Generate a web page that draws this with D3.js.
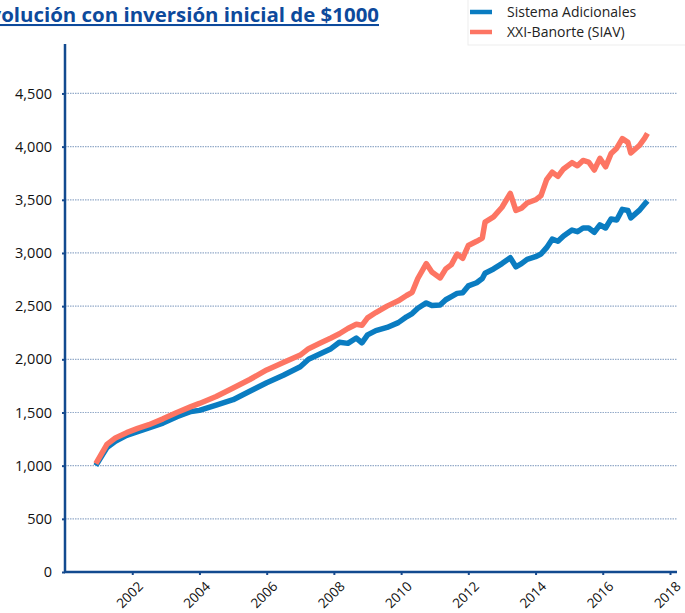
<!DOCTYPE html>
<html>
<head>
<meta charset="utf-8">
<script src="https://cdn.jsdelivr.net/npm/d3@7"></script>
<style>
  body { margin: 0; background: #fff; }
  text { font-family: "Open Sans", "Noto Sans", sans-serif; }
</style>
</head>
<body>
<div id="chart"></div>
<script>
// fechas (mes) y valores de cada serie
const fechas = ["2000-12","2001-04","2001-07","2001-11","2002-03","2002-07","2002-12","2003-05","2003-10",
  "2004-01","2004-07","2005-01","2005-07","2006-01","2006-07","2007-01","2007-04","2007-08","2007-12",
  "2008-03","2008-06","2008-09","2008-11","2009-01","2009-04","2009-08","2009-12","2010-03","2010-05",
  "2010-07","2010-10","2010-12","2011-03","2011-05","2011-07","2011-09","2011-11","2012-01","2012-04",
  "2012-06","2012-07","2012-10","2013-01","2013-04","2013-06","2013-08","2013-10","2014-01","2014-03",
  "2014-05","2014-07","2014-09","2014-11","2015-02","2015-04","2015-06","2015-08","2015-10","2015-12",
  "2016-02","2016-04","2016-06","2016-08","2016-10","2016-11","2017-02","2017-04","2017-05"];

const sistema = [1000,1170,1230,1285,1320,1355,1400,1460,1510,
  1520,1570,1620,1700,1780,1850,1930,2000,2050,2100,
  2160,2150,2200,2155,2230,2270,2300,2345,2400,2430,
  2480,2530,2505,2510,2560,2590,2620,2625,2690,2720,
  2760,2810,2850,2900,2955,2870,2900,2940,2965,2990,
  3050,3130,3110,3160,3215,3200,3235,3235,3195,3265,
  3235,3320,3310,3410,3400,3330,3400,3460,3490];

const banorte = [1020,1200,1260,1310,1350,1385,1440,1500,1555,
  1585,1650,1730,1810,1900,1970,2040,2100,2150,2200,
  2240,2290,2330,2320,2390,2440,2500,2550,2600,2630,
  2760,2900,2820,2765,2850,2890,2990,2950,3070,3110,
  3140,3290,3340,3430,3560,3400,3420,3470,3500,3540,
  3690,3760,3720,3790,3850,3820,3870,3855,3780,3890,
  3810,3935,3985,4075,4040,3940,4010,4080,4125];

const yTicks = [0,500,1000,1500,2000,2500,3000,3500,4000,4500];
const xTickYears = [2002,2004,2006,2008,2010,2012,2014,2016,2018];

const series = [
  {name: "Sistema Adicionales", values: sistema, color: "#0a7cc1"},
  {name: "XXI-Banorte (SIAV)", values: banorte, color: "#fd7563"}
];

const width = 685, height = 613;
const svg = d3.select("#chart").append("svg")
  .attr("width", width)
  .attr("height", height);

const parse = d3.timeParse("%Y-%m");
const dates = fechas.map(parse);

const x = d3.scaleTime()
  .domain([new Date(2000, 0, 1), new Date(2018, 0, 1)])
  .range([65, 670]);

const y = d3.scaleLinear()
  .domain([0, 4965])
  .range([572, 44]);

// gridlines
svg.append("g")
  .selectAll("line")
  .data(yTicks.filter(d => d > 0))
  .join("line")
  .attr("x1", 65).attr("x2", 677)
  .attr("y1", d => y(d)).attr("y2", d => y(d))
  .attr("stroke", "#94abc9")
  .attr("stroke-width", 1.2)
  .attr("stroke-dasharray", "1.5,1");

// y axis
const yAxis = svg.append("g")
  .attr("transform", "translate(65,0)")
  .call(d3.axisLeft(y).tickValues(yTicks).tickSize(3).tickPadding(10).tickFormat(d3.format(",")));
yAxis.select(".domain").remove();
yAxis.selectAll(".tick line").attr("stroke", "#1a4a8c").attr("stroke-width", 2);
yAxis.selectAll(".tick text").attr("font-size", 14.5).attr("fill", "#111");

svg.append("line")
  .attr("x1", 65).attr("x2", 65)
  .attr("y1", 44).attr("y2", 573)
  .attr("stroke", "#124a8f").attr("stroke-width", 2.5);

// x axis
const xAxis = svg.append("g")
  .attr("transform", "translate(0,572)")
  .call(d3.axisBottom(x)
    .tickValues(xTickYears.map(yr => new Date(yr, 0, 1)))
    .tickSize(3)
    .tickFormat(d3.timeFormat("%Y")));
xAxis.select(".domain").remove();
xAxis.selectAll(".tick line").attr("stroke", "#1a4a8c").attr("stroke-width", 2);
xAxis.selectAll(".tick text")
  .attr("font-size", 13.5).attr("fill", "#111")
  .attr("text-anchor", "end")
  .attr("dy", null)
  .attr("transform", "translate(7,11) rotate(-45)")
  .attr("x", 0).attr("y", 6);

svg.append("line")
  .attr("x1", 64).attr("x2", 677)
  .attr("y1", 572).attr("y2", 572)
  .attr("stroke", "#124a8f").attr("stroke-width", 2.5);

// lines
const line = d3.line()
  .x((d, i) => x(dates[i]))
  .y(d => y(d))
  .curve(d3.curveLinear);

svg.append("g")
  .selectAll("path")
  .data(series)
  .join("path")
  .attr("d", d => line(d.values))
  .attr("fill", "none")
  .attr("stroke", d => d.color)
  .attr("stroke-width", 5.5)
  .attr("stroke-linejoin", "round");

// title (the slide crops its first letters at the left edge)
const title = svg.append("text")
  .attr("x", 379).attr("y", 22)
  .attr("text-anchor", "end")
  .attr("font-size", 18)
  .attr("font-weight", "bold")
  .attr("fill", "#0d4a9c")
  .style("text-decoration", "underline")
  .text("Evolución con inversión inicial de $1000");
const tn = title.node();
const visible = tn.getComputedTextLength() - tn.getSubStringLength(0, 2);
title.attr("font-size", 18 * 378 / visible);

// legend
svg.append("rect")
  .attr("x", 468).attr("y", -2).attr("width", 230).attr("height", 47)
  .attr("fill", "none").attr("stroke", "#ededed");

const legend = svg.append("g")
  .selectAll("g")
  .data(series)
  .join("g")
  .attr("transform", (d, i) => `translate(470,${12 + i * 20})`);
legend.append("line")
  .attr("x1", 0).attr("x2", 22)
  .attr("stroke", d => d.color)
  .attr("stroke-width", 4.5);
legend.append("text")
  .attr("x", 37).attr("y", 5)
  .attr("font-size", 14)
  .attr("fill", "#222")
  .text(d => d.name);
</script>
</body>
</html>
